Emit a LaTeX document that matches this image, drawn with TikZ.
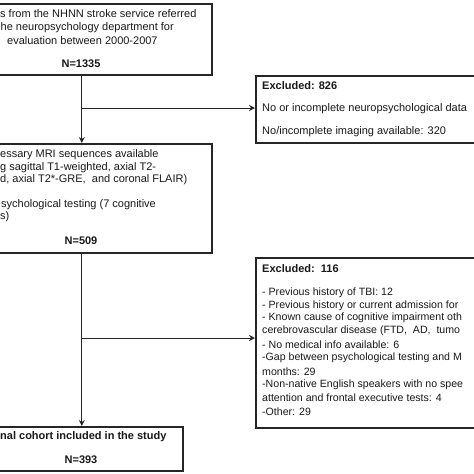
\documentclass[tikz,border=0pt]{standalone}
\usepackage{fontspec}
\setmainfont{Liberation Sans}
\usetikzlibrary{arrows.meta}
\tikzset{
  box/.style={draw=black!85, line width=1.6pt, inner sep=0pt, anchor=north west, fill=white},
  txt/.style={inner sep=0pt, anchor=west, font=\fontsize{11}{13}\selectfont, text=black!90},
  stxt/.style={inner sep=0pt, anchor=west, font=\fontsize{10.6}{13}\selectfont, text=black!90},
  btxt/.style={inner sep=0pt, font=\fontsize{11}{13}\selectfont\bfseries, text=black!90},
  conn/.style={draw=black!85, line width=1pt},
  arr/.style={conn, -{Stealth[length=6pt,width=6pt,inset=2pt]}}
}
\begin{document}
\begin{tikzpicture}[x=1pt,y=-1pt]
\useasboundingbox (0,0) rectangle (474,474);
\fill[white] (0,0) rectangle (474,474);
\clip (0,0) rectangle (474,474);
% boxes
\node[box, minimum width=260pt, minimum height=71pt] (b1) at (-49,3) {};
\node[box, minimum width=260pt, minimum height=67pt] (e1) at (255,75) {};
\node[box, minimum width=260pt, minimum height=109pt] (b2) at (-49,143) {};
\node[box, minimum width=260pt, minimum height=170pt] (e2) at (255,257) {};
\node[box, minimum width=202pt, minimum height=44pt] (b3) at (-20,426) {};
% connectors
\coordinate (j1) at (81,108);
\coordinate (j2) at (81,338);
\draw[arr] (b1.south) -- (b2.north);
\draw[arr] (j1) -- (j1 -| e1.west);
\draw[arr] (b2.south) -- (b3.north);
\draw[arr] (j2) -- (j2 -| e2.west);
% box 1 text
\node[txt] (t11) at (0,14) {s from the NHNN stroke service referred};
\node[txt] (t12) at (0.5,28) {he neuropsychology department for};
\node[txt] (t13) at (7,41) {evaluation between 2000-2007};
\node[btxt] (t14) at (81,64) {N=1335};
% excluded 1 text
\node[btxt, anchor=west] (t21) at (262,86) {Excluded: 826};
\node[txt] (t22) at (262,109) {No or incomplete neuropsychological data};
\node[txt] (t23) at (262,132) {No/incomplete imaging available: 320};
% box 2 text
\node[txt] (t31) at (0,155) {essary MRI sequences available};
\node[txt] (t32) at (0,168) {g sagittal T1-weighted, axial T2-};
\node[txt] (t33) at (0,180) {d, axial T2*-GRE,\ \ and coronal FLAIR)};
\node[txt] (t34) at (1,205) {sychological testing (7 cognitive};
\node[txt] (t35) at (0,217) {s)};
\node[btxt] (t36) at (81,241) {N=509};
% excluded 2 text
\node[btxt, anchor=west] (t41) at (262,269) {Excluded:\ \ 116};
\node[stxt] (t42) at (262,293) {- Previous history of TBI: 12};
\node[stxt] (t43) at (262,305.5) {- Previous history or current admission for};
\node[stxt] (t44) at (262,318) {- Known cause of cognitive impairment oth};
\node[stxt] (t45) at (262,331) {cerebrovascular disease (FTD,\ \ AD,\ \ tumo};
\node[stxt] (t46) at (262,345) {- No medical info available: 6};
\node[stxt] (t47) at (262,358) {-Gap between psychological testing and M};
\node[stxt] (t48) at (262,371.5) {months: 29};
\node[stxt] (t49) at (262,385) {-Non-native English speakers with no spee};
\node[stxt] (t410) at (262,398) {attention and frontal executive tests: 4};
\node[stxt] (t411) at (262,412) {-Other: 29};
% final box text
\node[btxt, anchor=west] (t51) at (0,437) {nal cohort included in the study};
\node[btxt] (t52) at (81,460) {N=393};
\end{tikzpicture}
\end{document}
